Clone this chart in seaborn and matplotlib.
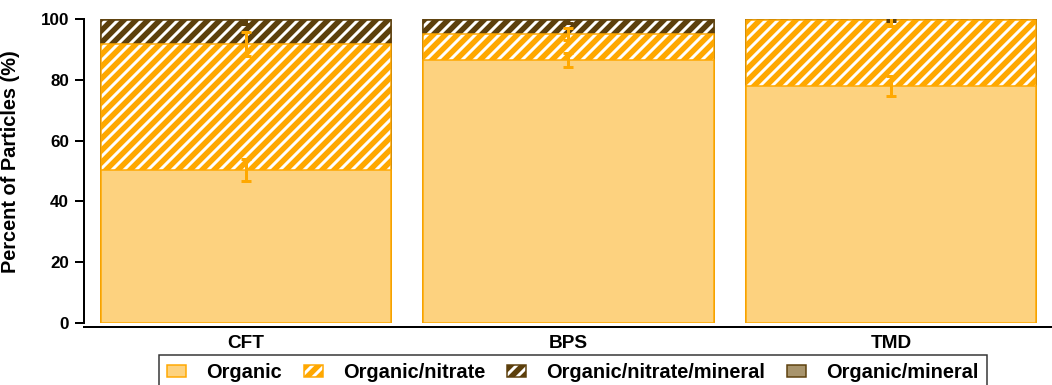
import numpy as np
import pandas as pd
import matplotlib
matplotlib.use("Agg")
import matplotlib.pyplot as plt
from matplotlib.patches import Patch
import seaborn as sns

# data (percent of particles)
sites = ["CFT", "BPS", "TMD"]
organic = [50.4, 86.6, 78.0]
organic_nitrate = [41.4, 8.5, 21.6]
organic_nitrate_mineral = [8.0, 4.7, 0.3]
organic_mineral = [0.2, 0.2, 0.1]

err_organic = [3.6, 2.3, 3.3]
err_organic_nitrate = [4.0, 2.0, 2.0]
err_organic_nitrate_mineral = [1.5, 1.0, 0.5]

layer_names = ["Organic", "Organic/nitrate", "Organic/nitrate/mineral", "Organic/mineral"]

ORANGE = "#FFA800"
LIGHT = "#FDD27F"
BROWN = "#5C3F0C"
TAN = "#A8946C"

sns.set_style("white")
plt.rcParams["font.family"] = ["Liberation Sans", "DejaVu Sans"]
plt.rcParams["font.weight"] = "bold"
plt.rcParams["hatch.linewidth"] = 5.5
plt.rcParams["text.color"] = "black"
plt.rcParams["axes.labelcolor"] = "black"
plt.rcParams["xtick.color"] = "black"
plt.rcParams["ytick.color"] = "black"

# stack the layers
df = pd.DataFrame({"site": sites,
                   "Organic": organic,
                   "Organic/nitrate": organic_nitrate,
                   "Organic/nitrate/mineral": organic_nitrate_mineral,
                   "Organic/mineral": organic_mineral})
cum = df[layer_names].cumsum(axis=1)
for name in layer_names:
    df["cum_" + name] = cum[name]

DPI = 72
fig = plt.figure(figsize=(1052 / DPI, 385 / DPI), dpi=DPI)
ax = fig.add_axes([84 / 1052, 1 - 323 / 385, 1 - 84 / 1052, (323 - 19) / 385])

styles = {
    "Organic": dict(color=LIGHT, edgecolor=ORANGE, hatch=None),
    "Organic/nitrate": dict(color="white", edgecolor=ORANGE, hatch="//"),
    "Organic/nitrate/mineral": dict(color="white", edgecolor=BROWN, hatch="//"),
    "Organic/mineral": dict(color=TAN, edgecolor=BROWN, hatch=None),
}

# draw the tallest cumulative bar first so lower layers sit on top
for name in reversed(layer_names):
    st = styles[name]
    sns.barplot(data=df, x="site", y="cum_" + name, order=sites, ax=ax,
                color=st["color"], edgecolor=st["edgecolor"], hatch=st["hatch"],
                linewidth=1.5, width=0.9, saturation=1, errorbar=None)

# error bars at the top of each layer
xpos = np.arange(len(sites))
for name, err, c in [("Organic/nitrate/mineral", err_organic_nitrate_mineral, BROWN),
                     ("Organic", err_organic, ORANGE),
                     ("Organic/nitrate", err_organic_nitrate, ORANGE)]:
    ax.errorbar(xpos, df["cum_" + name], yerr=err, fmt="none", ecolor=c,
                elinewidth=3, capsize=5, capthick=3, zorder=5)

ax.set_xlim(-0.503, 2.466)
ax.set_ylim(0, 100)
ax.set_yticks([0, 20, 40, 60, 80, 100])
ax.set_xticks(xpos)
ax.set_xticks([-0.5, 0.5, 1.5, 2.5], minor=True)
ax.tick_params(axis="x", which="major", length=0, pad=8, labelsize=19)
ax.tick_params(axis="x", which="minor", length=10, width=2, direction="out")
ax.tick_params(axis="y", length=9, width=2, direction="out", labelsize=17, pad=6, left=True)
for lab in ax.get_xticklabels() + ax.get_yticklabels():
    lab.set_fontweight("bold")

ax.set_xlabel("")
ax.set_ylabel("Percent of Particles (%)", fontsize=20, fontweight="bold")
ax.yaxis.set_label_coords(-0.066, 0.53)

sns.despine(ax=ax)
for side in ["left", "bottom"]:
    ax.spines[side].set_linewidth(2)
    ax.spines[side].set_color("black")
ax.spines["bottom"].set_position(("outward", 4))

handles = [Patch(facecolor=styles[n]["color"], edgecolor=styles[n]["edgecolor"],
                 hatch=styles[n]["hatch"], linewidth=1.5, label=n) for n in layer_names]
leg = fig.legend(handles=handles, loc="upper center", bbox_to_anchor=(573 / 1052, 1 - 355 / 385),
                 ncol=4, frameon=True, fancybox=False, edgecolor="black", borderaxespad=0,
                 prop={"size": 20, "weight": "bold"}, handlelength=0.95, handleheight=0.6,
                 handletextpad=1.0, columnspacing=1.1, borderpad=0.4)
leg.get_frame().set_linewidth(1.5)

fig.savefig("out.png", dpi=DPI)
